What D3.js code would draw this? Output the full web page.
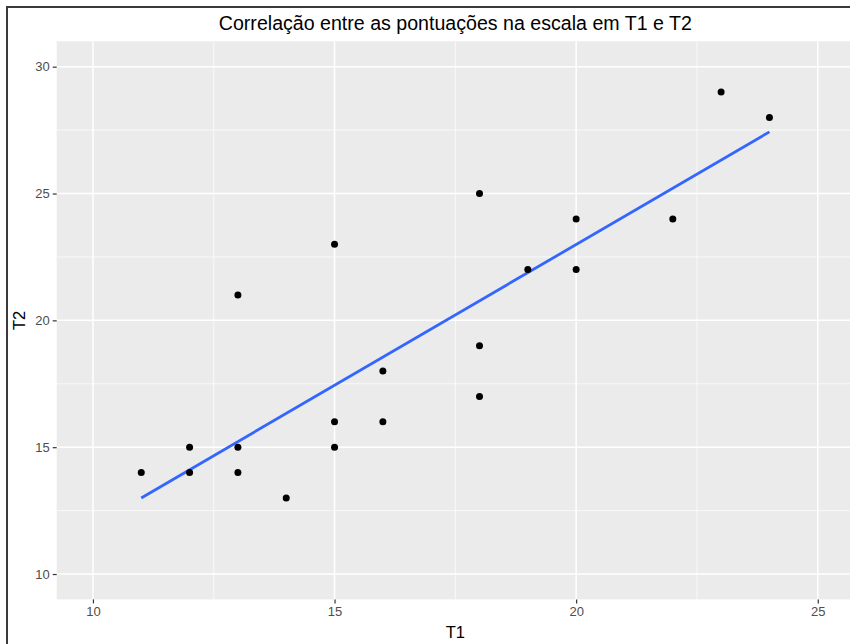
<!DOCTYPE html>
<html>
<head>
<meta charset="utf-8">
<script src="https://cdn.jsdelivr.net/npm/d3@7"></script>
<style>
  html, body { margin: 0; padding: 0; background: #fff; }
  svg { display: block; font-family: "Liberation Sans", Arial, Helvetica, sans-serif; }
</style>
</head>
<body>
<svg id="chart" width="850" height="644"></svg>
<script>
// ---- Data ----
const t1 = [11, 12, 12, 13, 13, 13, 14, 15, 15, 15, 16, 16, 18, 18, 18, 19, 20, 20, 22, 23, 24];
const t2 = [14, 15, 14, 21, 15, 14, 13, 23, 16, 15, 18, 16, 25, 19, 17, 22, 24, 22, 24, 29, 28];
// fitted line (geom_smooth, method = "lm"), values read at the ends of the T1 range
const fitT1 = [11, 24];
const fitT2 = [13.0, 27.43];
const xTicks = [10, 15, 20, 25];
const yTicks = [10, 15, 20, 25, 30];
const xMinor = [12.5, 17.5, 22.5];
const yMinor = [12.5, 17.5, 22.5, 27.5];
const titleText = "Correlação entre as pontuações na escala em T1 e T2";
const xLabel = "T1";
const yLabel = "T2";

// ---- Layout ----
const svg = d3.select("#chart");
const panel = { left: 56.7, right: 854, top: 41.3, bottom: 599.4 };

const x = d3.scaleLinear().domain([9.25, 25.75]).range([panel.left, panel.right]);
const y = d3.scaleLinear().domain([9, 31]).range([panel.bottom, panel.top]);

// outer frame
svg.append("rect")
  .attr("x", 7).attr("y", 7).attr("width", 900).attr("height", 700)
  .attr("fill", "none").attr("stroke", "#3a3a3a").attr("stroke-width", 2);

// panel background
svg.append("rect")
  .attr("x", panel.left).attr("y", panel.top)
  .attr("width", panel.right - panel.left).attr("height", panel.bottom - panel.top)
  .attr("fill", "#EBEBEB");

const grid = svg.append("g");
// minor grid
grid.selectAll(".xminor").data(xMinor).join("line")
  .attr("x1", d => x(d)).attr("x2", d => x(d))
  .attr("y1", panel.top).attr("y2", panel.bottom)
  .attr("stroke", "#fff").attr("stroke-width", 0.7);
grid.selectAll(".yminor").data(yMinor).join("line")
  .attr("y1", d => y(d)).attr("y2", d => y(d))
  .attr("x1", panel.left).attr("x2", panel.right)
  .attr("stroke", "#fff").attr("stroke-width", 0.7);
// major grid
grid.selectAll(".xmajor").data(xTicks).join("line")
  .attr("x1", d => x(d)).attr("x2", d => x(d))
  .attr("y1", panel.top).attr("y2", panel.bottom)
  .attr("stroke", "#fff").attr("stroke-width", 1.5);
grid.selectAll(".ymajor").data(yTicks).join("line")
  .attr("y1", d => y(d)).attr("y2", d => y(d))
  .attr("x1", panel.left).attr("x2", panel.right)
  .attr("stroke", "#fff").attr("stroke-width", 1.5);

// axes
const xAxis = svg.append("g")
  .attr("transform", `translate(0,${panel.bottom})`)
  .call(d3.axisBottom(x).tickValues(xTicks).tickSize(4).tickPadding(3).tickFormat(d3.format("d")));
const yAxis = svg.append("g")
  .attr("transform", `translate(${panel.left},0)`)
  .call(d3.axisLeft(y).tickValues(yTicks).tickSize(4).tickPadding(3).tickFormat(d3.format("d")));
[xAxis, yAxis].forEach(a => {
  a.select(".domain").remove();
  a.selectAll(".tick line").attr("stroke", "#333").attr("stroke-width", 1.2);
  a.selectAll(".tick text").attr("fill", "#4D4D4D").attr("font-size", 13)
    .attr("font-family", "Liberation Sans, Arial, sans-serif");
});

// regression line
svg.append("line")
  .attr("x1", x(fitT1[0])).attr("y1", y(fitT2[0]))
  .attr("x2", x(fitT1[1])).attr("y2", y(fitT2[1]))
  .attr("stroke", "#3366FF").attr("stroke-width", 2.8);

// points
svg.append("g").selectAll("circle").data(t1.map((v, i) => [v, t2[i]])).join("circle")
  .attr("cx", d => x(d[0])).attr("cy", d => y(d[1])).attr("r", 3.5).attr("fill", "#000");

// title
svg.append("text")
  .attr("x", (panel.left + panel.right) / 2).attr("y", 30)
  .attr("text-anchor", "middle").attr("font-size", 19.6).attr("fill", "#000")
  .text(titleText);

// axis titles
svg.append("text")
  .attr("x", (panel.left + panel.right) / 2).attr("y", 637.5)
  .attr("text-anchor", "middle").attr("font-size", 16.5).attr("fill", "#000")
  .text(xLabel);
svg.append("text")
  .attr("transform", `translate(25,${(panel.top + panel.bottom) / 2}) rotate(-90)`)
  .attr("text-anchor", "middle").attr("font-size", 16.5).attr("fill", "#000")
  .text(yLabel);
</script>
</body>
</html>
